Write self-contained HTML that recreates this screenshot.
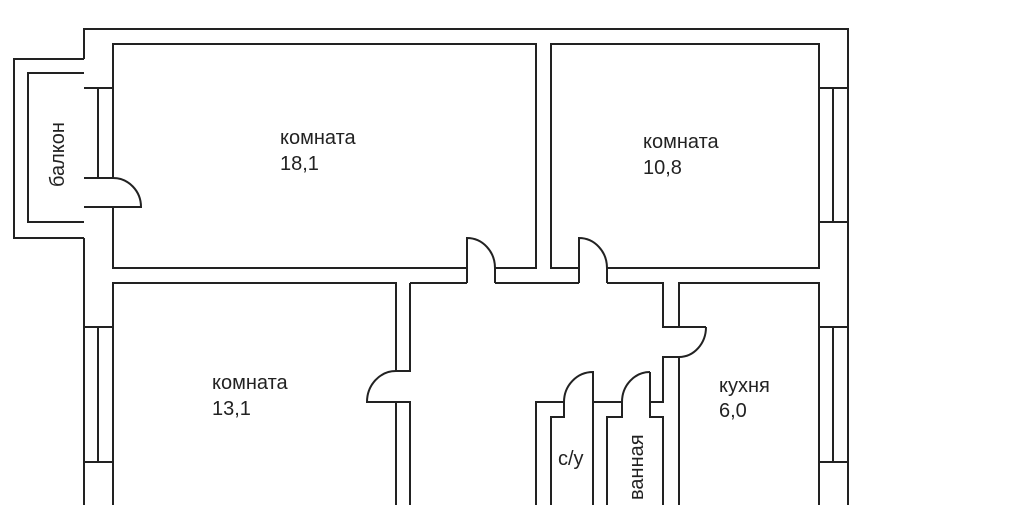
<!DOCTYPE html>
<html><head><meta charset="utf-8"><style>
html,body{margin:0;padding:0;background:#fff;}
svg{display:block}
text{font-family:"Liberation Sans",sans-serif;font-size:20px;fill:#222}
</style></head><body>
<svg width="1023" height="505" viewBox="0 0 1023 505">
<g fill="none" stroke="#222" stroke-width="2">
<polyline points="84,59 84,29 848,29 848,505"/>
<polyline points="84,238 84,505"/>
<polyline points="84,59 14,59 14,238 84,238"/>
<polyline points="84,73 28,73 28,222 84,222"/>
<polyline points="113,178 113,44 536,44 536,268 495,268"/>
<polyline points="467,268 113,268 113,207"/>
<line x1="84" y1="88" x2="113" y2="88"/><line x1="98" y1="88" x2="98" y2="178"/>
<polyline points="84,178 113,178"/>
<path d="M113,178 A28,29 0 0 1 141,207 L84,207"/>
<path d="M467,283 L467,238 A28,30 0 0 1 495,268 L495,283"/>
<polyline points="607,268 819,268 819,44 551,44 551,268 579,268"/>
<line x1="819" y1="88" x2="848" y2="88"/><line x1="819" y1="222" x2="848" y2="222"/><line x1="833" y1="88" x2="833" y2="222"/>
<path d="M579,283 L579,238 A28,30 0 0 1 607,268 L607,283"/>
<line x1="410" y1="283" x2="467" y2="283"/>
<line x1="495" y1="283" x2="579" y2="283"/>
<polyline points="607,283 663,283 663,327 706,327"/>
<path d="M706,327 A27,30 0 0 1 679,357 L663,357 L663,402 L650,402"/>
<polyline points="650,372 650,417 663,417 663,505"/>
<polyline points="679,357 679,505"/>
<polyline points="679,327 679,283 819,283 819,505"/>
<line x1="819" y1="327" x2="848" y2="327"/><line x1="819" y1="462" x2="848" y2="462"/><line x1="833" y1="327" x2="833" y2="462"/>
<polyline points="113,505 113,283 396,283 396,371 410,371 410,283"/>
<path d="M396,371 A29,31 0 0 0 367,402 L410,402 L410,505"/>
<line x1="396" y1="402" x2="396" y2="505"/>
<line x1="84" y1="327" x2="113" y2="327"/><line x1="84" y1="462" x2="113" y2="462"/><line x1="98" y1="327" x2="98" y2="462"/>
<polyline points="536,505 536,402 564,402"/>
<path d="M593,505 L593,372 A29,30 0 0 0 564,402 L564,417 L551,417 L551,505"/>
<line x1="593" y1="402" x2="622" y2="402"/>
<path d="M650,372 A28,30 0 0 0 622,402 L622,417 L607,417 L607,505"/>
</g>
<text x="280" y="144">комната</text>
<text x="280" y="170">18,1</text>
<text x="643" y="148">комната</text>
<text x="643" y="174">10,8</text>
<text x="212" y="389">комната</text>
<text x="212" y="415">13,1</text>
<text x="719" y="392">кухня</text>
<text x="719" y="417">6,0</text>
<text x="558" y="465">с/у</text>
<text transform="translate(643,500) rotate(-90)">ванная</text>
<text transform="translate(64,187) rotate(-90)">балкон</text>
</svg>
</body></html>
